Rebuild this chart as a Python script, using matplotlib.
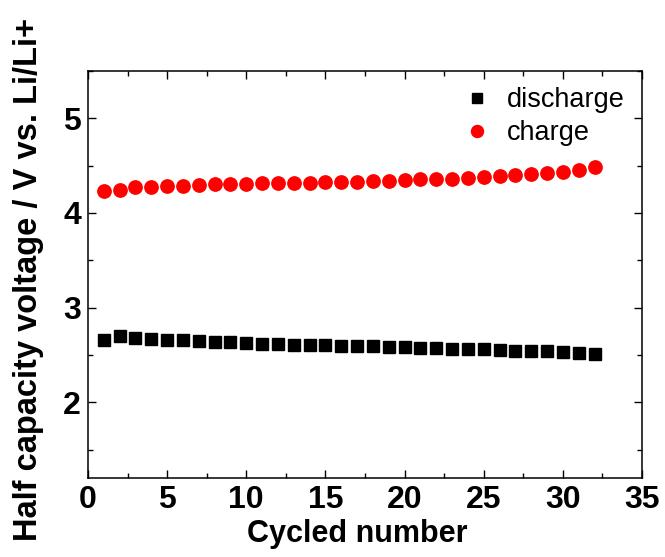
import matplotlib
matplotlib.use("Agg")
import matplotlib.pyplot as plt
from matplotlib.ticker import MultipleLocator

plt.rcParams['font.family'] = ['Liberation Sans', 'DejaVu Sans']

# cycle numbers
cycles = list(range(1, 33))

# half capacity voltage (V vs. Li/Li+)
discharge = [2.660, 2.698, 2.684, 2.670, 2.663, 2.653, 2.645, 2.639,
             2.632, 2.625, 2.621, 2.614, 2.610, 2.607, 2.600, 2.596,
             2.593, 2.590, 2.586, 2.579, 2.575, 2.572, 2.568, 2.565,
             2.561, 2.554, 2.547, 2.544, 2.537, 2.530, 2.523, 2.505]
charge = [4.235, 4.242, 4.270, 4.277, 4.284, 4.290, 4.300, 4.305,
          4.310, 4.310, 4.313, 4.316, 4.320, 4.320, 4.323, 4.326,
          4.328, 4.335, 4.337, 4.351, 4.354, 4.354, 4.361, 4.365,
          4.379, 4.389, 4.397, 4.407, 4.418, 4.430, 4.456, 4.484]

xticks = [0, 5, 10, 15, 20, 25, 30, 35]
yticks = [2, 3, 4, 5]

fig = plt.figure(figsize=(6.65, 5.57), dpi=100)
ax = fig.add_axes([88 / 665, 79 / 557, 554 / 665, 407 / 557])

ax.plot(cycles, discharge, 's', color='black', markersize=8.2, linestyle='none', label='discharge')
ax.plot(cycles, charge, 'o', color='red', markersize=9.6, linestyle='none', label='charge')

ax.set_xlim(0, 35)
ax.set_ylim(1.2, 5.5)
ax.set_xticks(xticks)
ax.set_yticks(yticks)
ax.xaxis.set_minor_locator(MultipleLocator(2.5))
ax.yaxis.set_minor_locator(MultipleLocator(0.5))
ax.tick_params(which='both', direction='in', top=True, right=True, width=1.0)
ax.tick_params(which='major', length=6, labelsize=23, pad=5)
ax.tick_params(which='minor', length=3.5)
for lab in ax.get_xticklabels() + ax.get_yticklabels():
    lab.set_fontweight('bold')
for sp in ax.spines.values():
    sp.set_linewidth(1.1)

fig.text(357 / 665, 1 - 534 / 557, 'Cycled number', ha='center', va='center',
         fontsize=22, fontweight='bold')
fig.text(29 / 665, 1 - 279 / 557, 'Half capacity voltage / V vs. Li/Li+', ha='center',
         va='center', rotation=90, fontsize=23.5, fontweight='bold')

ax.legend(loc='upper right', bbox_to_anchor=(1.012, 1.02), frameon=False, fontsize=19.5,
          markerscale=0.9, handletextpad=0.35, labelspacing=0.26, handlelength=1.5)

fig.savefig('out.png', dpi=100)
